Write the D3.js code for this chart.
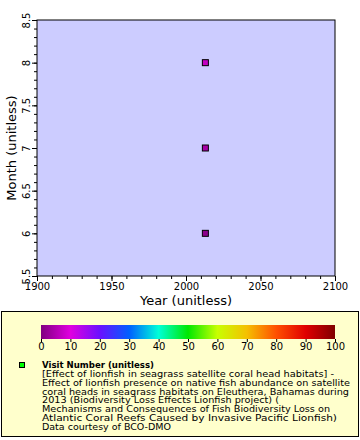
<!DOCTYPE html>
<html><head><meta charset="utf-8">
<script src="https://cdn.jsdelivr.net/npm/d3@7"></script>
<style>body{margin:0;background:#fff}svg{display:block;font-family:"DejaVu Sans",sans-serif}</style>
</head><body><svg id="c" width="360" height="440"></svg>
<script>
const years = [2013, 2013, 2013];
const months = [6, 7, 8];
const visits = [1, 4, 7];
const xTicks = [1900, 1950, 2000, 2050, 2100];
const yTicks = [5.5, 6, 6.5, 7, 7.5, 8, 8.5];
const cbTicks = [0, 10, 20, 30, 40, 50, 60, 70, 80, 90, 100];
const cbStops = [0, 10, 20, 30, 40, 50, 60, 70, 80, 90, 100];
const cbColors = ["#800080","#e000e0","#6a10ff","#0060ff","#00ffd8","#00e800","#c8ff00","#f5c000","#ff5000","#e00000","#800000"];
const legendLines = ["[Effect of lionfish in seagrass satellite coral head habitats] -",
 "Effect of lionfish presence on native fish abundance on satellite",
 "coral heads in seagrass habitats on Eleuthera, Bahamas during",
 "2013 (Biodiversity Loss Effects Lionfish project) (",
 "Mechanisms and Consequences of Fish Biodiversity Loss on",
 "Atlantic Coral Reefs Caused by Invasive Pacific Lionfish)",
 "Data courtesy of BCO-DMO"];
const legendEnds = [334, 350, 349, 279, 330, 337, 171];

const svg = d3.select("#c");
const L=37, R=335, T=20, B=276;
const x = d3.scaleLinear().domain([1900,2100]).range([L,R]);
const y = d3.scaleLinear().domain([5.5,8.5]).range([B,T]);
const color = d3.scaleLinear().domain(cbStops).range(cbColors);

svg.append("rect").attr("x",L).attr("y",T).attr("width",R-L).attr("height",B-T).attr("fill","#ccccff");

const xa = svg.append("g").attr("transform",`translate(0,${B})`);
xa.call(d3.axisBottom(x).tickValues(d3.range(1900,2101,10)).tickSize(3).tickFormat(""));
xa.select(".domain").remove();
const xb = svg.append("g").attr("transform",`translate(0,${B})`);
xb.call(d3.axisBottom(x).tickValues(xTicks).tickSize(5).tickPadding(2).tickFormat(d3.format("d")));
xb.selectAll("text").attr("font-size",10).attr("font-family","DejaVu Sans").attr("fill","#000");
xb.select(".domain").remove();

const ya = svg.append("g").attr("transform",`translate(${L},0)`);
ya.call(d3.axisLeft(y).tickValues(d3.range(55,86,1).map(d=>d/10)).tickSize(3).tickFormat(""));
ya.select(".domain").remove();
const yb = svg.append("g").attr("transform",`translate(${L},0)`);
yb.call(d3.axisLeft(y).tickValues(yTicks).tickSize(5).tickFormat(d=>String(d)));
yb.select(".domain").remove();
yb.selectAll("text").attr("font-size",10).attr("font-family","DejaVu Sans").attr("fill","#000")
  .attr("transform","rotate(-90)").attr("x",0).attr("y",-7).attr("dy","0").attr("text-anchor","middle");

svg.append("rect").attr("x",L).attr("y",T).attr("width",R-L).attr("height",B-T).attr("fill","none").attr("stroke","#000");

svg.append("text").attr("x",(L+R)/2).attr("y",305).attr("text-anchor","middle").attr("font-size",13).text("Year (unitless)");
svg.append("text").attr("transform",`translate(16,${(T+B)/2}) rotate(-90)`).attr("text-anchor","middle").attr("font-size",13).text("Month (unitless)");

svg.selectAll("rect.pt").data(months).join("rect").attr("class","pt")
  .attr("x",(d,i)=>x(years[i])-3).attr("y",d=>y(d)-3).attr("width",6).attr("height",6)
  .attr("fill",(d,i)=>color(visits[i])).attr("stroke","#000").attr("stroke-width",1);

// legend
svg.append("rect").attr("x",1.5).attr("y",311.5).attr("width",357).attr("height",125).attr("fill","#ffffcc").attr("stroke","#000");
const defs = svg.append("defs");
const grad = defs.append("linearGradient").attr("id","cb");
cbStops.forEach((s,i)=>grad.append("stop").attr("offset",s+"%").attr("stop-color",cbColors[i]));
const cx = d3.scaleLinear().domain([0,100]).range([41,335]);
svg.append("rect").attr("x",41).attr("y",325).attr("width",294).attr("height",14).attr("fill","url(#cb)");
const cba = svg.append("g").attr("transform","translate(0,339)");
cba.call(d3.axisBottom(cx).tickValues(cbTicks).tickSize(3).tickPadding(1));
cba.select(".domain").remove();
cba.selectAll("text").attr("font-size",10).attr("font-family","DejaVu Sans").attr("fill","#000");

svg.append("rect").attr("x",19.5).attr("y",362.5).attr("width",5).attr("height",5).attr("fill","#00ff00").attr("stroke","#000");
svg.append("text").attr("x",42).attr("y",367.5).attr("font-size",9).attr("font-weight","bold").attr("textLength",112).attr("lengthAdjust","spacingAndGlyphs").text("Visit Number (unitless)");
legendLines.forEach((t,i)=>{
  svg.append("text").attr("x",42).attr("y",377+i*8.8).attr("font-size",9)
    .attr("textLength",legendEnds[i]-42).attr("lengthAdjust","spacingAndGlyphs").text(t);
});
</script></body></html>
